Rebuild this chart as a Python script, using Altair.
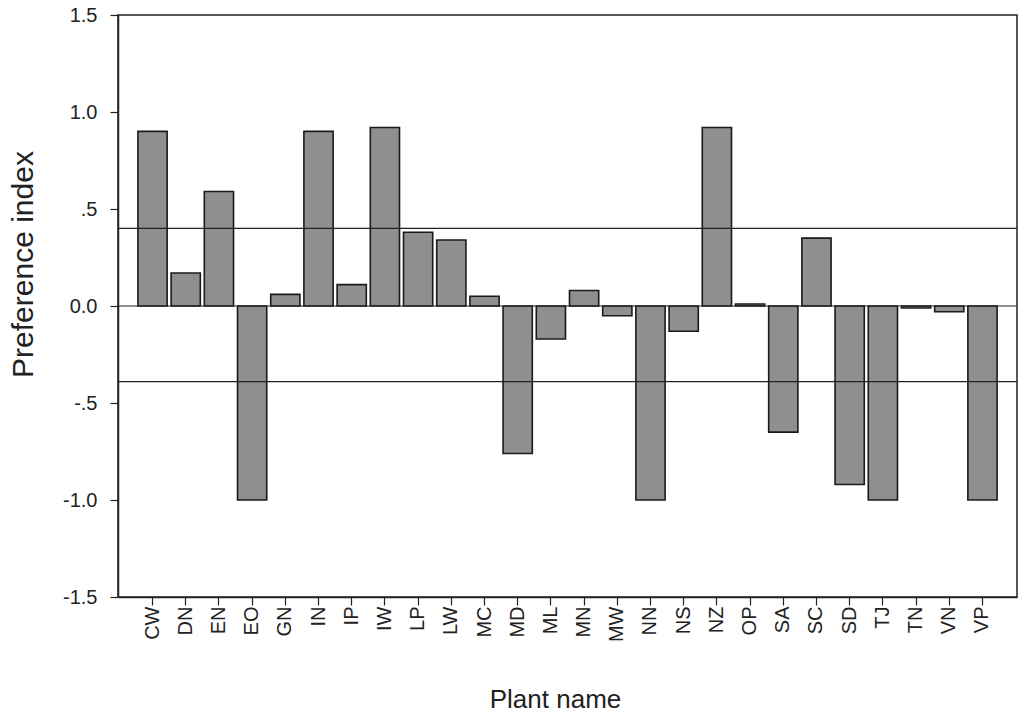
import altair as alt
import pandas as pd

plants = ["CW", "DN", "EN", "EO", "GN", "IN", "IP", "IW", "LP", "LW", "MC", "MD", "ML",
          "MN", "MW", "NN", "NS", "NZ", "OP", "SA", "SC", "SD", "TJ", "TN", "VN", "VP"]
values = [0.90, 0.17, 0.59, -1.00, 0.06, 0.90, 0.11, 0.92, 0.38, 0.34, 0.05, -0.76, -0.17,
          0.08, -0.05, -1.00, -0.13, 0.92, 0.01, -0.65, 0.35, -0.92, -1.00, -0.01, -0.03, -1.00]
ref_lines = [0.4, 0.0, -0.39]
y_ticks = [-1.5, -1.0, -0.5, 0.0, 0.5, 1.0, 1.5]
y_tick_labels = ["-1.5", "-1.0", "-.5", "0.0", ".5", "1.0", "1.5"]

df = pd.DataFrame({"plant": plants, "value": values})
ref_df = pd.DataFrame({"y": ref_lines})

label_expr = " : ".join([f"datum.value == {v} ? '{l}'" for v, l in zip(y_ticks, y_tick_labels)]) + " : ''"

FONT = "Liberation Sans"
TXT = "#222"

x_enc = alt.X("plant:N", sort=plants,
              scale=alt.Scale(paddingInner=0.12, paddingOuter=0.6),
              axis=alt.Axis(title="Plant name", labelAngle=-90, labelFontSize=20,
                            labelFont=FONT, labelColor=TXT, labelPadding=1,
                            tickSize=8, tickColor=TXT, domainColor=TXT,
                            titleFontSize=26, titleFont=FONT, titleFontWeight="normal",
                            titleColor=TXT, titleX=437, titleY=110,
                            titleAlign="center", titleBaseline="alphabetic"))
y_scale = alt.Scale(domain=[-1.5, 1.5], nice=False)
y_axis = alt.Axis(title="Preference index", values=y_ticks, labelExpr=label_expr,
                  labelFontSize=20, labelFont=FONT, labelColor=TXT, labelPadding=13,
                  tickSize=8, tickColor=TXT, domainColor=TXT, grid=False,
                  titleFontSize=30, titleFont=FONT, titleFontWeight="normal",
                  titleColor=TXT, titleAngle=270, titleX=-86, titleY=249,
                  titleAlign="center", titleBaseline="alphabetic")

bars = alt.Chart(df).mark_bar(color="#8d908d", stroke="#1a1a1a", strokeWidth=1.6).encode(
    x=x_enc,
    y=alt.Y("value:Q", scale=y_scale, axis=y_axis),
    y2=alt.datum(0),
)

rules = alt.Chart(ref_df).mark_rule(color="#222", strokeWidth=1.2).encode(
    y=alt.Y("y:Q", scale=y_scale)
)

chart = alt.layer(bars, rules).properties(
    width=899, height=582,
    padding={"left": 118, "top": 15, "right": 2, "bottom": 118},
    autosize=alt.AutoSizeParams(type="none"),
).configure_view(stroke="#222", strokeWidth=1.5).configure_axis(domainWidth=1.5, tickWidth=1.2)

chart.save("out.html", embed_options={"renderer": "svg", "actions": False})
